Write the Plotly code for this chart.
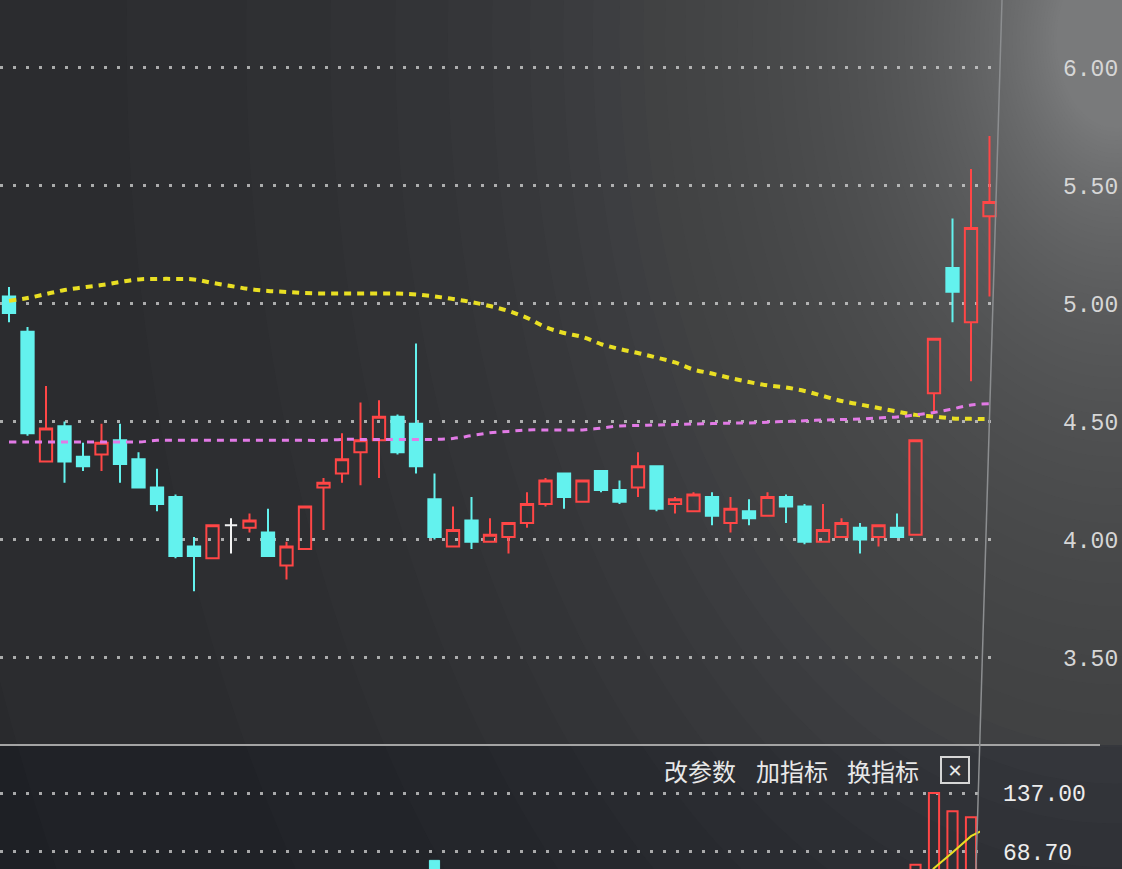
import math
import plotly.graph_objects as go

# ---------------- data ----------------
idx = list(range(54))
opens = [5.03, 4.88, 4.33, 4.48, 4.35, 4.36, 4.42, 4.34, 4.22, 4.18,
         3.97, 3.92, 4.06, 4.05, 4.03, 3.89, 3.96, 4.22, 4.28, 4.37,
         4.42, 4.52, 4.49, 4.17, 3.97, 4.08, 3.99, 4.01, 4.07, 4.15,
         4.28, 4.16, 4.29, 4.21, 4.22, 4.31, 4.15, 4.12, 4.18, 4.07,
         4.12, 4.10, 4.18, 4.14, 3.99, 4.01, 4.05, 4.01, 4.05, 4.02,
         4.62, 5.15, 4.92, 5.37]
highs = [5.07, 4.90, 4.65, 4.50, 4.41, 4.49, 4.49, 4.37, 4.30, 4.19,
         4.01, 4.06, 4.09, 4.11, 4.13, 3.99, 4.14, 4.26, 4.45, 4.58,
         4.59, 4.53, 4.83, 4.28, 4.14, 4.18, 4.09, 4.07, 4.20, 4.26,
         4.28, 4.25, 4.29, 4.25, 4.37, 4.31, 4.18, 4.20, 4.20, 4.18,
         4.17, 4.20, 4.19, 4.15, 4.15, 4.09, 4.07, 4.06, 4.11, 4.42,
         4.85, 5.36, 5.57, 5.71]
lows = [4.92, 4.44, 4.33, 4.24, 4.29, 4.29, 4.24, 4.22, 4.12, 3.92,
        3.78, 3.92, 3.94, 4.03, 3.93, 3.83, 3.96, 4.04, 4.24, 4.23,
        4.26, 4.36, 4.28, 4.00, 3.97, 3.96, 3.99, 3.94, 4.05, 4.14,
        4.13, 4.16, 4.20, 4.15, 4.18, 4.12, 4.11, 4.12, 4.06, 4.03,
        4.06, 4.10, 4.07, 3.98, 3.99, 4.01, 3.94, 3.97, 4.01, 4.02,
        4.54, 4.92, 4.67, 5.03]
closes = [4.96, 4.45, 4.47, 4.33, 4.31, 4.41, 4.32, 4.22, 4.15, 3.93,
          3.93, 4.06, 4.06, 4.08, 3.93, 3.97, 4.14, 4.24, 4.34, 4.42,
          4.52, 4.37, 4.31, 4.01, 4.04, 3.99, 4.02, 4.07, 4.15, 4.25,
          4.18, 4.25, 4.21, 4.16, 4.31, 4.13, 4.17, 4.19, 4.10, 4.13,
          4.09, 4.18, 4.14, 3.99, 4.04, 4.07, 4.00, 4.06, 4.01, 4.42,
          4.85, 5.05, 5.32, 5.43]
ma_yellow = [5.011, 5.023, 5.040, 5.057, 5.068, 5.078, 5.091, 5.102, 5.104, 5.104,
             5.102, 5.087, 5.074, 5.061, 5.053, 5.049, 5.044, 5.042, 5.042, 5.042,
             5.042, 5.042, 5.038, 5.030, 5.019, 5.006, 4.989, 4.968, 4.939, 4.900,
             4.875, 4.858, 4.828, 4.807, 4.790, 4.771, 4.750, 4.720, 4.703, 4.684,
             4.667, 4.653, 4.644, 4.629, 4.608, 4.587, 4.572, 4.557, 4.542, 4.528,
             4.521, 4.513, 4.511, 4.511]
ma_magenta = [4.413, 4.413, 4.413, 4.413, 4.413, 4.413, 4.413, 4.413, 4.420, 4.420,
              4.420, 4.420, 4.420, 4.420, 4.420, 4.420, 4.420, 4.420, 4.424, 4.424,
              4.424, 4.424, 4.424, 4.424, 4.428, 4.440, 4.452, 4.458, 4.464, 4.464,
              4.464, 4.464, 4.472, 4.481, 4.483, 4.485, 4.487, 4.489, 4.491, 4.493,
              4.494, 4.497, 4.500, 4.503, 4.506, 4.508, 4.510, 4.515, 4.519, 4.528,
              4.538, 4.553, 4.570, 4.575]
volume = [30, 45, 38, 30, 22, 25, 28, 26, 24, 40,
          35, 28, 18, 15, 22, 20, 30, 22, 26, 32,
          35, 30, 46, 59, 28, 26, 18, 20, 24, 26,
          22, 20, 18, 16, 24, 26, 15, 16, 18, 17,
          14, 18, 15, 22, 20, 14, 16, 13, 15, 54,
          137, 116, 109, 100]
vol_ma = [33, 34, 35, 35, 33, 32, 29, 26, 25, 29,
          31, 31, 29, 26, 24, 20, 21, 22, 24, 26,
          29, 31, 34, 40, 40, 38, 34, 30, 23, 23,
          22, 22, 22, 21, 20, 21, 20, 20, 20, 18,
          16, 17, 16, 17, 18, 18, 17, 17, 16, 22,
          50, 68, 87, 98]
price_ticks = [3.5, 4.0, 4.5, 5.0, 5.5, 6.0]
vol_ticks = [68.7, 137.0]
menu_labels = ["改参数", "加指标", "换指标"]
close_label = "✕"

# ---------------- style / geometry ----------------
W, H = 1122, 869
RED = "#ff4646"
CYAN = "#63f2ee"
WHITE = "#f2f2f2"
YELLOW = "#e9df23"
MAGENTA = "#e27ae6"
GRID = "rgba(215,215,215,0.75)"
BG = "#292a2d"

x0_px, step_px = 9.0, 18.5
main_right_px, vol_right_px = 998, 980
split_px = 745            # separator between price and volume panels (from top)
price_range = [3.129, 6.286]
vol_range = [49.0, 192.6]


def xr(right_px):
    return [-x0_px / step_px, (right_px - x0_px) / step_px]


def px(x):
    return x / W


def py(y):
    return 1 - y / H


doji = [o == c for o, c in zip(opens, closes)]


def keep(arr, mask):
    return [v if m else None for v, m in zip(arr, mask)]


normal = [not d for d in doji]

fig = go.Figure()

# main candles
fig.add_trace(go.Candlestick(
    x=idx, open=keep(opens, normal), high=keep(highs, normal),
    low=keep(lows, normal), close=keep(closes, normal),
    increasing=dict(line=dict(color=RED, width=2), fillcolor="rgba(0,0,0,0)"),
    decreasing=dict(line=dict(color=CYAN, width=2), fillcolor=CYAN),
    whiskerwidth=0, hoverinfo="skip", showlegend=False,
    xaxis="x", yaxis="y"))
# doji (open == close) drawn in white
fig.add_trace(go.Candlestick(
    x=idx, open=keep(opens, doji), high=keep(highs, doji),
    low=keep(lows, doji), close=keep(closes, doji),
    increasing=dict(line=dict(color=WHITE, width=2), fillcolor=WHITE),
    decreasing=dict(line=dict(color=WHITE, width=2), fillcolor=WHITE),
    whiskerwidth=0, hoverinfo="skip", showlegend=False,
    xaxis="x", yaxis="y"))

# moving averages
fig.add_trace(go.Scatter(x=idx, y=ma_yellow, mode="lines", line_shape="spline",
                         line=dict(color=YELLOW, width=4, dash="7px,6px"),
                         hoverinfo="skip", showlegend=False, xaxis="x", yaxis="y"))
fig.add_trace(go.Scatter(x=idx, y=ma_magenta, mode="lines", line_shape="spline",
                         line=dict(color=MAGENTA, width=3, dash="7px,6px"),
                         hoverinfo="skip", showlegend=False, xaxis="x", yaxis="y"))

# volume bars: coloured by change versus the previous close
prev_close = [opens[0]] + closes[:-1]
up = [c >= p for c, p in zip(closes, prev_close)]
down = [not u for u in up]
fig.add_trace(go.Bar(x=idx, y=keep(volume, up), width=0.55,
                     marker=dict(color="rgba(0,0,0,0)", line=dict(color=RED, width=2)),
                     hoverinfo="skip", showlegend=False, xaxis="x2", yaxis="y2"))
fig.add_trace(go.Bar(x=idx, y=keep(volume, down), width=0.55,
                     marker=dict(color=CYAN, line=dict(color=CYAN, width=1)),
                     hoverinfo="skip", showlegend=False, xaxis="x2", yaxis="y2"))
fig.add_trace(go.Scatter(x=idx, y=vol_ma, mode="lines",
                         line=dict(color=YELLOW, width=2),
                         hoverinfo="skip", showlegend=False, xaxis="x2", yaxis="y2"))

# ---------------- background decoration ----------------
shapes = []
# darker volume panel
shapes.append(dict(type="rect", xref="paper", yref="paper", x0=0, x1=1, y0=0, y1=py(split_px),
                   fillcolor="#1e2025", line=dict(width=0), layer="below"))
# smooth screen glare in the upper right corner (stacked faint ellipses)
gcx, gcy, stretch, a_step = 1115, 40, 1.5, 0.014
k = 1
while True:
    alpha_k = 1 - (1 - a_step) ** k
    if alpha_k >= 0.62:
        break
    r = -300 * math.log(alpha_k / 0.75)
    shapes.append(dict(type="circle", xref="paper", yref="paper",
                       x0=px(gcx - r), x1=px(gcx + r),
                       y0=py(gcy + r * stretch), y1=py(gcy - r * stretch),
                       fillcolor="rgba(200,204,204,%.3f)" % a_step,
                       line=dict(width=0), layer="below"))
    k += 1
# panel separators
shapes.append(dict(type="line", xref="paper", yref="paper", x0=0, x1=px(1100),
                   y0=py(split_px), y1=py(split_px), line=dict(color="#a4a4a4", width=2)))
shapes.append(dict(type="line", xref="paper", yref="paper", x0=px(1002), x1=px(976),
                   y0=1, y1=0, line=dict(color="#8c8e90", width=1.5)))

annotations = []
for label, cxl in zip(menu_labels, [700, 792, 883]):
    annotations.append(dict(text=label, xref="paper", yref="paper", x=px(cxl), y=py(770),
                            xanchor="center", yanchor="middle", showarrow=False,
                            font=dict(family="Noto Sans CJK SC", size=24, color="#e8e8e8")))
annotations.append(dict(text=close_label, xref="paper", yref="paper", x=px(955), y=py(770),
                        xanchor="center", yanchor="middle", showarrow=False,
                        width=24, height=22, bordercolor="#d6d6d6", borderwidth=2, borderpad=1,
                        font=dict(family="DejaVu Sans", size=18, color="#e6e6e6")))

axis_font = dict(family="Liberation Mono", size=23, color="#d6d6d6")

fig.update_layout(
    width=W, height=H, margin=dict(l=0, r=0, t=0, b=0),
    paper_bgcolor=BG, plot_bgcolor="rgba(0,0,0,0)",
    showlegend=False, boxgap=0.3, boxgroupgap=0.05, barmode="overlay",
    xaxis=dict(domain=[0, px(main_right_px)], range=xr(main_right_px), anchor="y",
               rangeslider=dict(visible=False), showgrid=False, zeroline=False,
               showticklabels=False, ticks="", showline=False),
    yaxis=dict(domain=[py(split_px), 1], range=price_range, anchor="x", side="right",
               tickvals=price_ticks, tickformat=".2f", ticks="", ticklabelstandoff=64,
               showgrid=True, gridcolor=GRID, gridwidth=2.5, griddash="3px,10px",
               zeroline=False, showline=False, tickfont=axis_font),
    xaxis2=dict(domain=[0, px(vol_right_px)], range=xr(vol_right_px), anchor="y2",
                showgrid=False, zeroline=False, showticklabels=False, ticks="", showline=False),
    yaxis2=dict(domain=[0, py(split_px)], range=vol_range, anchor="x2", side="right",
                tickvals=vol_ticks, tickformat=".2f", ticks="", ticklabelstandoff=22,
                showgrid=True, gridcolor=GRID, gridwidth=2.5, griddash="3px,10px",
                zeroline=False, showline=False,
                tickfont=dict(family="Liberation Mono", size=23, color="#ececec")),
    shapes=shapes, annotations=annotations,
)

fig.write_html("out.html", config={"displayModeBar": False},
               post_script="document.body.style.margin='0';document.body.style.overflow='hidden';")
